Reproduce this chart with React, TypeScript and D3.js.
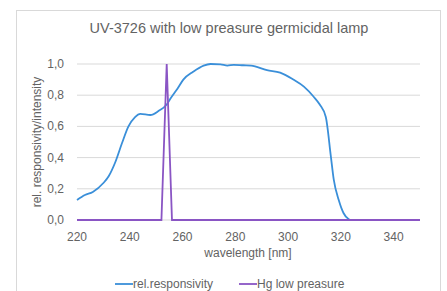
import React, { useEffect, useRef } from "react";
import * as d3 from "d3";

// wavelength [nm] and relative responsivity
const respWavelength = [220, 223, 226, 230, 232, 234.5, 237, 239.5, 242, 244, 247.8, 251, 254, 255.5, 258, 260.3, 264, 268, 270.6, 274.4, 277, 279.4, 283, 286, 292, 297, 302, 306, 309.7, 312, 314.3, 316.2, 317.3, 319.2, 321, 323, 324];
const respValue = [0.128, 0.16, 0.18, 0.237, 0.28, 0.37, 0.49, 0.6, 0.66, 0.68, 0.673, 0.7, 0.74, 0.78, 0.84, 0.9, 0.95, 0.99, 1.0, 0.998, 0.99, 0.995, 0.992, 0.99, 0.96, 0.945, 0.9, 0.855, 0.79, 0.74, 0.66, 0.41, 0.26, 0.128, 0.045, 0.005, 0];

// low pressure Hg lamp emission (253.7 nm line)
const hgWavelength = [220, 252, 254, 256, 350];
const hgValue = [0, 0, 1.0, 0, 0];

const xTicks = [220, 240, 260, 280, 300, 320, 340];
const yTicks = [0, 0.2, 0.4, 0.6, 0.8, 1.0];

const seriesNames = ["rel.responsivity", "Hg low preasure"];
const seriesColors = ["#3a8fd9", "#8a55c4"];

function App() {
  const chartRef = useRef<SVGSVGElement | null>(null);

  useEffect(() => {
    drawChart();
  }, []);

  const drawChart = () => {
    const plot = { left: 77, right: 420, top: 64, bottom: 220 };
    const textColor = "#636363";
    const font = "'Liberation Sans', Arial, sans-serif";

    const svg = d3.select(chartRef.current);
    svg.selectAll("*").remove();

    // chart frame
    svg.append("rect")
      .attr("x", 16.5).attr("y", 10.5)
      .attr("width", 424).attr("height", 290)
      .attr("fill", "#fff")
      .attr("stroke", "#d9d9d9");

    const x = d3.scaleLinear().domain([220, 350]).range([plot.left, plot.right]);
    const y = d3.scaleLinear().domain([0, 1]).range([plot.bottom, plot.top]);

    // gridlines
    svg.append("g")
      .selectAll("line")
      .data(yTicks)
      .enter()
      .append("line")
      .attr("x1", plot.left).attr("x2", plot.right)
      .attr("y1", d => y(d)).attr("y2", d => y(d))
      .attr("stroke", "#d9d9d9")
      .attr("stroke-width", 1);

    // y tick labels
    svg.append("g")
      .selectAll("text")
      .data(yTicks)
      .enter()
      .append("text")
      .attr("x", 64)
      .attr("y", d => y(d) + 4)
      .attr("text-anchor", "end")
      .style("font-size", "12px")
      .style("font-family", font)
      .attr("fill", textColor)
      .text(d => d3.format(".1f")(d).replace(".", ","));

    // x tick labels
    svg.append("g")
      .selectAll("text")
      .data(xTicks)
      .enter()
      .append("text")
      .attr("x", d => x(d))
      .attr("y", 241)
      .attr("text-anchor", "middle")
      .style("font-size", "12px")
      .style("font-family", font)
      .attr("fill", textColor)
      .text(d => d);

    // lines
    const line = d3.line<[number, number]>()
      .x(d => x(d[0]))
      .y(d => y(d[1]))
      .curve(d3.curveMonotoneX);

    const respData: [number, number][] = respWavelength.map((w, i) => [w, respValue[i]]);
    const hgData: [number, number][] = hgWavelength.map((w, i) => [w, hgValue[i]]);

    svg.append("path")
      .datum(respData)
      .attr("d", line)
      .attr("fill", "none")
      .attr("stroke", seriesColors[0])
      .attr("stroke-width", 1.8);

    svg.append("path")
      .datum(hgData)
      .attr("d", d3.line<[number, number]>().x(d => x(d[0])).y(d => y(d[1])))
      .attr("fill", "none")
      .attr("stroke", seriesColors[1])
      .attr("stroke-width", 1.8);

    // title
    svg.append("text")
      .attr("x", 229)
      .attr("y", 33)
      .attr("text-anchor", "middle")
      .style("font-size", "14.5px")
      .style("font-family", font)
      .attr("fill", textColor)
      .text("UV-3726 with low preasure germicidal lamp");

    // axis titles
    svg.append("text")
      .attr("x", 248)
      .attr("y", 257)
      .attr("text-anchor", "middle")
      .style("font-size", "12px")
      .style("font-family", font)
      .attr("fill", textColor)
      .text("wavelength [nm]");

    svg.append("text")
      .attr("transform", `translate(41,${(plot.top + plot.bottom) / 2}) rotate(-90)`)
      .attr("text-anchor", "middle")
      .style("font-size", "12px")
      .style("font-family", font)
      .attr("fill", textColor)
      .text("rel. responsivity/intensity");

    // legend
    const legendX = [115, 239];
    const legend = svg.append("g")
      .selectAll("g")
      .data(seriesNames)
      .enter()
      .append("g")
      .attr("transform", (d, i) => `translate(${legendX[i]},284)`);

    legend.append("line")
      .attr("x1", 0).attr("x2", 18)
      .attr("stroke", (d, i) => seriesColors[i])
      .attr("stroke-width", 1.8);

    legend.append("text")
      .attr("x", 18)
      .attr("y", 4)
      .style("font-size", "12px")
      .style("font-family", font)
      .attr("fill", textColor)
      .text(d => d);
  };

  return (
    <svg
      ref={chartRef}
      width={447}
      height={291}
      style={{ position: "absolute", left: 0, top: 0, background: "#fff" }}
    />
  );
}

export default App;
